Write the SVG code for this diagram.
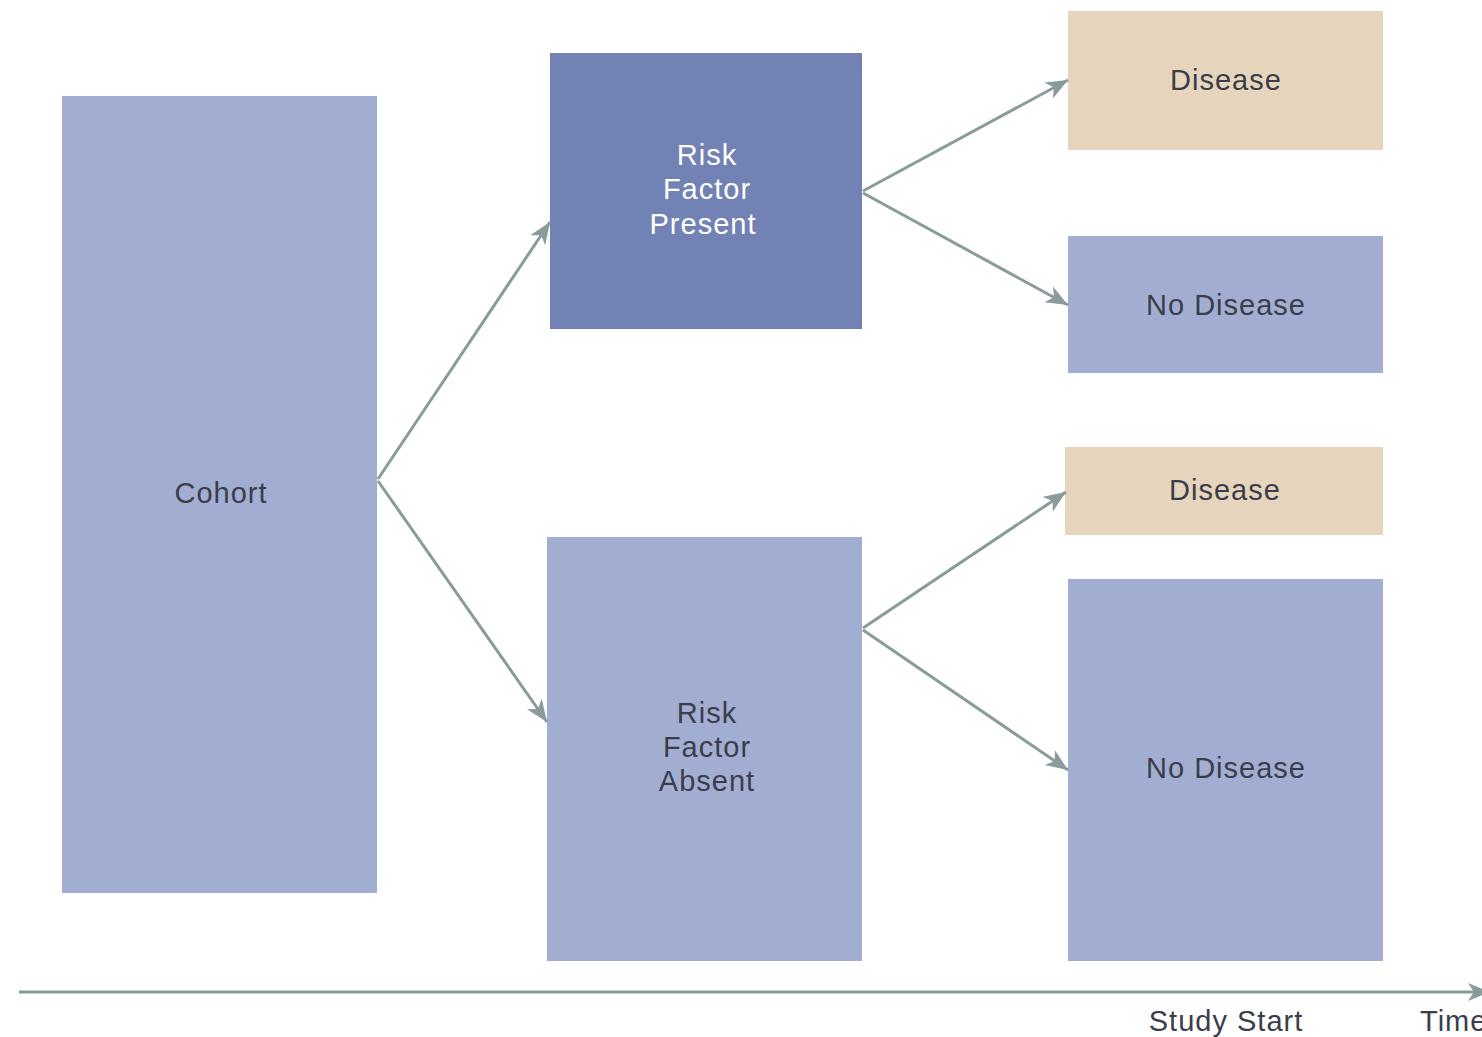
<svg xmlns="http://www.w3.org/2000/svg" width="1482" height="1037" viewBox="0 0 1482 1037">
  <style>
    .light { fill: #a2aed1; }
    .dark { fill: #7282b4; }
    .tan { fill: #e6d5bc; }
    .lbl { font-family: "Liberation Sans", Arial, sans-serif; font-size: 29px; letter-spacing: 1px; fill: #3b3d4a; text-anchor: middle; }
    .lbl.inv { fill: #ffffff; }
    .edge { stroke: #8a9b9b; stroke-width: 3; fill: none; marker-end: url(#head); }
  </style>
  <defs>
    <marker id="head" markerUnits="userSpaceOnUse" markerWidth="26" markerHeight="20" refX="22" refY="10" orient="auto">
      <path d="M0,1 L22,10 L0,19 L6,10 Z" fill="#8a9b9b"/>
    </marker>
  </defs>
  <rect width="1482" height="1037" fill="#ffffff"/>

  <g id="cohort">
    <rect class="light" x="62" y="96" width="315" height="797"/>
    <text class="lbl" x="221" y="503">Cohort</text>
  </g>
  <g id="risk-present">
    <rect class="dark" x="550" y="53" width="312" height="276"/>
    <text class="lbl inv" x="707" y="165">Risk</text>
    <text class="lbl inv" x="707" y="199">Factor</text>
    <text class="lbl inv" x="703" y="234">Present</text>
  </g>
  <g id="risk-absent">
    <rect class="light" x="547" y="537" width="315" height="424"/>
    <text class="lbl" x="707" y="723">Risk</text>
    <text class="lbl" x="707" y="757">Factor</text>
    <text class="lbl" x="707" y="791">Absent</text>
  </g>
  <g id="disease-1">
    <rect class="tan" x="1068" y="11" width="315" height="139"/>
    <text class="lbl" x="1226" y="90">Disease</text>
  </g>
  <g id="no-disease-1">
    <rect class="light" x="1068" y="236" width="315" height="137"/>
    <text class="lbl" x="1226" y="315">No Disease</text>
  </g>
  <g id="disease-2">
    <rect class="tan" x="1065" y="447" width="318" height="88"/>
    <text class="lbl" x="1225" y="500">Disease</text>
  </g>
  <g id="no-disease-2">
    <rect class="light" x="1068" y="579" width="315" height="382"/>
    <text class="lbl" x="1226" y="778">No Disease</text>
  </g>

  <g id="connectors">
    <path class="edge" d="M378,479 L550,222"/>
    <path class="edge" d="M378,481 L547,722"/>
    <path class="edge" d="M863,191 L1068,80"/>
    <path class="edge" d="M863,193 L1068,305"/>
    <path class="edge" d="M863,628 L1066,492"/>
    <path class="edge" d="M863,630 L1068,770"/>
    <path class="edge" d="M19,992 L1490,992"/>
  </g>

  <g id="axis-labels">
    <text class="lbl" x="1226" y="1031">Study Start</text>
    <text class="lbl" x="1420" y="1031" style="text-anchor:start">Time</text>
  </g>
</svg>
